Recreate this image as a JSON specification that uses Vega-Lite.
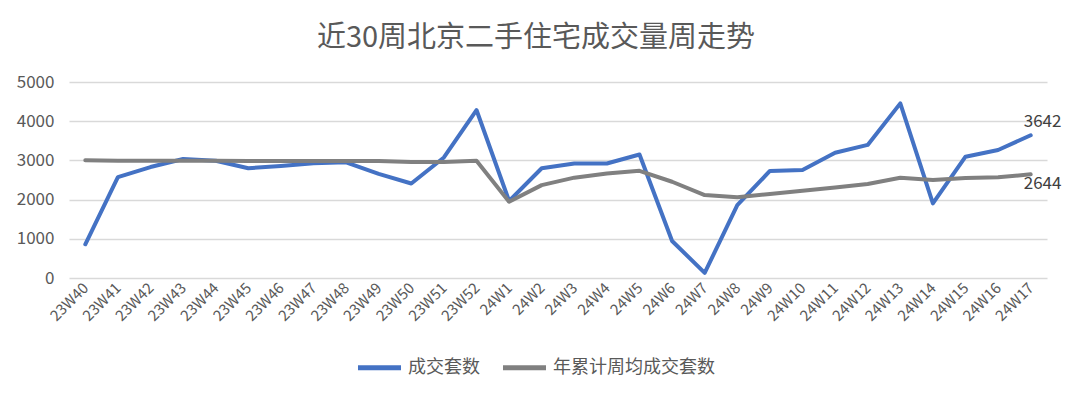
{
  "$schema": "https://vega.github.io/schema/vega-lite/v6.json",
  "autosize": {"type": "none"},
  "padding": {"left": 69, "top": 82, "right": 25, "bottom": 116},
  "width": 978,
  "height": 196,
  "background": "white",
  "title": {
    "text": "近30周北京二手住宅成交量周走势",
    "font": "Noto Sans CJK SC",
    "fontSize": 29,
    "fontWeight": "normal",
    "color": "#595959",
    "anchor": "middle",
    "frame": "group",
    "dx": -22,
    "offset": 20
  },
  "data": {
    "values": [
      {"week": "23W40", "series": "成交套数", "value": 860},
      {"week": "23W41", "series": "成交套数", "value": 2575},
      {"week": "23W42", "series": "成交套数", "value": 2830},
      {"week": "23W43", "series": "成交套数", "value": 3035},
      {"week": "23W44", "series": "成交套数", "value": 2990},
      {"week": "23W45", "series": "成交套数", "value": 2800},
      {"week": "23W46", "series": "成交套数", "value": 2855},
      {"week": "23W47", "series": "成交套数", "value": 2925},
      {"week": "23W48", "series": "成交套数", "value": 2950},
      {"week": "23W49", "series": "成交套数", "value": 2655},
      {"week": "23W50", "series": "成交套数", "value": 2410},
      {"week": "23W51", "series": "成交套数", "value": 3075},
      {"week": "23W52", "series": "成交套数", "value": 4285},
      {"week": "24W1", "series": "成交套数", "value": 1965},
      {"week": "24W2", "series": "成交套数", "value": 2800},
      {"week": "24W3", "series": "成交套数", "value": 2920},
      {"week": "24W4", "series": "成交套数", "value": 2920},
      {"week": "24W5", "series": "成交套数", "value": 3150},
      {"week": "24W6", "series": "成交套数", "value": 945},
      {"week": "24W7", "series": "成交套数", "value": 130},
      {"week": "24W8", "series": "成交套数", "value": 1860},
      {"week": "24W9", "series": "成交套数", "value": 2730},
      {"week": "24W10", "series": "成交套数", "value": 2755},
      {"week": "24W11", "series": "成交套数", "value": 3195},
      {"week": "24W12", "series": "成交套数", "value": 3395},
      {"week": "24W13", "series": "成交套数", "value": 4455},
      {"week": "24W14", "series": "成交套数", "value": 1905},
      {"week": "24W15", "series": "成交套数", "value": 3095},
      {"week": "24W16", "series": "成交套数", "value": 3265},
      {"week": "24W17", "series": "成交套数", "value": 3642},
      {"week": "23W40", "series": "年累计周均成交套数", "value": 3005},
      {"week": "23W41", "series": "年累计周均成交套数", "value": 2990},
      {"week": "23W42", "series": "年累计周均成交套数", "value": 2988},
      {"week": "23W43", "series": "年累计周均成交套数", "value": 2990},
      {"week": "23W44", "series": "年累计周均成交套数", "value": 2990},
      {"week": "23W45", "series": "年累计周均成交套数", "value": 2985},
      {"week": "23W46", "series": "年累计周均成交套数", "value": 2982},
      {"week": "23W47", "series": "年累计周均成交套数", "value": 2982},
      {"week": "23W48", "series": "年累计周均成交套数", "value": 2985},
      {"week": "23W49", "series": "年累计周均成交套数", "value": 2983},
      {"week": "23W50", "series": "年累计周均成交套数", "value": 2958},
      {"week": "23W51", "series": "年累计周均成交套数", "value": 2962},
      {"week": "23W52", "series": "年累计周均成交套数", "value": 2990},
      {"week": "24W1", "series": "年累计周均成交套数", "value": 1945},
      {"week": "24W2", "series": "年累计周均成交套数", "value": 2370},
      {"week": "24W3", "series": "年累计周均成交套数", "value": 2560},
      {"week": "24W4", "series": "年累计周均成交套数", "value": 2665},
      {"week": "24W5", "series": "年累计周均成交套数", "value": 2735},
      {"week": "24W6", "series": "年累计周均成交套数", "value": 2455},
      {"week": "24W7", "series": "年累计周均成交套数", "value": 2115},
      {"week": "24W8", "series": "年累计周均成交套数", "value": 2060},
      {"week": "24W9", "series": "年累计周均成交套数", "value": 2145},
      {"week": "24W10", "series": "年累计周均成交套数", "value": 2228},
      {"week": "24W11", "series": "年累计周均成交套数", "value": 2310},
      {"week": "24W12", "series": "年累计周均成交套数", "value": 2400},
      {"week": "24W13", "series": "年累计周均成交套数", "value": 2558},
      {"week": "24W14", "series": "年累计周均成交套数", "value": 2500},
      {"week": "24W15", "series": "年累计周均成交套数", "value": 2550},
      {"week": "24W16", "series": "年累计周均成交套数", "value": 2570},
      {"week": "24W17", "series": "年累计周均成交套数", "value": 2644}
    ]
  },
  "encoding": {
    "x": {
      "field": "week",
      "type": "ordinal",
      "sort": null,
      "scale": {"type": "point", "padding": 0.5},
      "axis": {
        "title": null,
        "labelAngle": -45,
        "labelAlign": "right",
        "labelBaseline": "middle",
        "labelFont": "Noto Sans CJK SC",
        "labelFontSize": 15,
        "labelColor": "#595959",
        "labelPadding": 7,
        "ticks": false,
        "domain": false,
        "grid": false
      }
    },
    "y": {
      "field": "value",
      "type": "quantitative",
      "scale": {"domain": [0, 5000], "nice": false},
      "axis": {
        "title": null,
        "values": [0, 1000, 2000, 3000, 4000, 5000],
        "format": "d",
        "labelFont": "Noto Sans CJK SC",
        "labelFontSize": 17,
        "labelColor": "#595959",
        "labelPadding": 15,
        "ticks": false,
        "domain": false,
        "grid": true,
        "gridColor": "#d9d9d9",
        "gridWidth": 1.5
      }
    }
  },
  "layer": [
    {
      "mark": {"type": "line", "strokeWidth": 4, "strokeCap": "round", "strokeJoin": "round"},
      "encoding": {
        "color": {
          "field": "series",
          "type": "nominal",
          "sort": ["成交套数", "年累计周均成交套数"],
          "scale": {"domain": ["成交套数", "年累计周均成交套数"], "range": ["#4472C4", "#808080"]},
          "legend": {
            "title": null,
            "orient": "none",
            "legendX": 286,
            "legendY": 261,
            "direction": "horizontal",
            "symbolType": "stroke",
            "symbolSize": 1850,
            "symbolStrokeWidth": 5,
            "labelFont": "Noto Sans CJK SC",
            "labelFontSize": 18,
            "labelColor": "#595959",
            "labelLimit": 400,
            "columnPadding": 12,
            "labelOffset": 4
          }
        }
      }
    },
    {
      "transform": [{"filter": "datum.week === '24W17' && datum.series === '成交套数'"}],
      "mark": {"type": "text", "align": "left", "dx": -7, "dy": -13, "font": "Noto Sans CJK SC", "fontSize": 17, "color": "#404040"},
      "encoding": {"text": {"field": "value", "type": "quantitative"}}
    },
    {
      "transform": [{"filter": "datum.week === '24W17' && datum.series === '年累计周均成交套数'"}],
      "mark": {"type": "text", "align": "left", "dx": -7, "dy": 10, "font": "Noto Sans CJK SC", "fontSize": 17, "color": "#404040"},
      "encoding": {"text": {"field": "value", "type": "quantitative"}}
    }
  ],
  "config": {"view": {"stroke": null}}
}
